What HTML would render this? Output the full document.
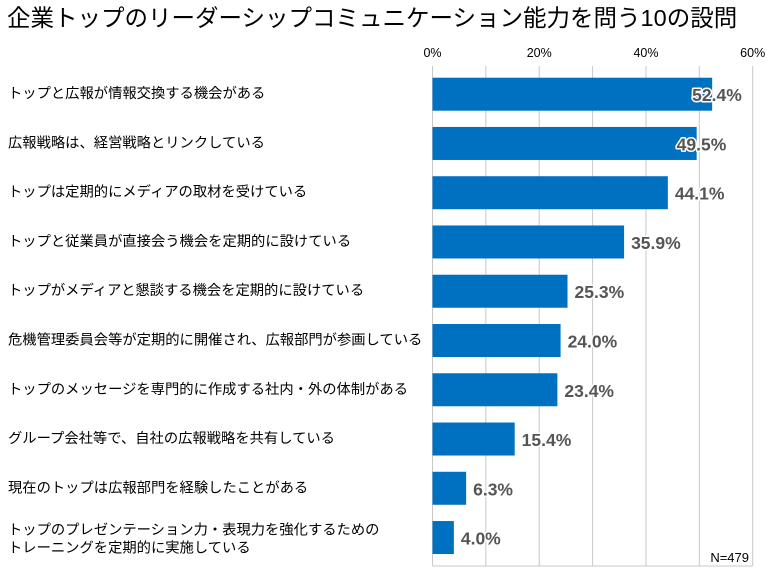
<!DOCTYPE html>
<html><head><meta charset="utf-8"><style>
body{margin:0;background:#fff;font-family:"Liberation Sans","Noto Sans CJK JP",sans-serif;}
</style></head><body>
<svg width="770" height="573" viewBox="0 0 770 573" xmlns="http://www.w3.org/2000/svg" id="chart" style="font-family:'Liberation Sans','Noto Sans CJK JP',sans-serif">
<text x="7" y="26" font-size="23.5" fill="#000">企業トップのリーダーシップコミュニケーション能力を問う10の設問</text>
<g id="grid"></g><g id="bars"></g><g id="labels"></g>
<text x="749" y="562" font-size="13" fill="#000" text-anchor="end">N=479</text>
</svg>
<script>
const categories=[["トップと広報が情報交換する機会がある"],["広報戦略は、経営戦略とリンクしている"],["トップは定期的にメディアの取材を受けている"],["トップと従業員が直接会う機会を定期的に設けている"],["トップがメディアと懇談する機会を定期的に設けている"],["危機管理委員会等が定期的に開催され、広報部門が参画している"],["トップのメッセージを専門的に作成する社内・外の体制がある"],["グループ会社等で、自社の広報戦略を共有している"],["現在のトップは広報部門を経験したことがある"],["トップのプレゼンテーション力・表現力を強化するための","トレーニングを定期的に実施している"]];
const values=[52.4,49.5,44.1,35.9,25.3,24.0,23.4,15.4,6.3,4.0];
const ticks=[0,10,20,30,40,50,60];
const tickLabels=["0%","","20%","","40%","","60%"];
const NS="http://www.w3.org/2000/svg";
const x0=432.5,pxPer=(752.7-432.5)/60,top0=77.7,pitch=49.26,bh=33,gTop=66,gBot=566;
const X=v=>x0+v*pxPer, Y=i=>top0+i*pitch;
function mk(t,a,p){const e=document.createElementNS(NS,t);for(const k in a)e.setAttribute(k,a[k]);p.appendChild(e);return e;}
const grid=document.getElementById('grid'),bars=document.getElementById('bars'),labels=document.getElementById('labels');
ticks.forEach((t,i)=>{
 const l=mk('line',{x1:X(t),x2:X(t),y1:gTop,y2:gBot,stroke:'#c8c8c8','stroke-width':1},grid);
 
 
 if(tickLabels[i]){const tx=mk('text',{x:X(t),y:57,'font-size':12.5,'text-anchor':'middle',fill:'#000'},grid);tx.textContent=tickLabels[i];
 
 }
});
const bl=mk('line',{x1:x0,x2:X(60),y1:gBot,y2:gBot,stroke:'#c8c8c8','stroke-width':1},grid);


values.forEach((v,i)=>{
 const y=Y(i);
 const r=mk('rect',{x:x0,y:y,width:X(v)-x0,height:bh,fill:'#0070c0'},bars);
 
 
 const end=X(v);let lx=end+7; if(lx+55>750) lx=end-20;
 const t=mk('text',{x:lx,y:y+bh/2+7,'font-size':17.5,'font-weight':'bold',fill:'#555',stroke:'#fff','stroke-width':3,'paint-order':'stroke','stroke-linejoin':'round'},labels);
 t.textContent=v.toFixed(1)+'%';
 
 
 const lines=categories[i];
 lines.forEach((s,j)=>{
  const c=mk('text',{x:8,y:y+bh/2+4+(j-(lines.length-1)/2)*18+(lines.length>1?2:0),'font-size':14.3,fill:'#000'},labels);
  c.textContent=s;
  
  
 });
});
</script>
</body></html>
